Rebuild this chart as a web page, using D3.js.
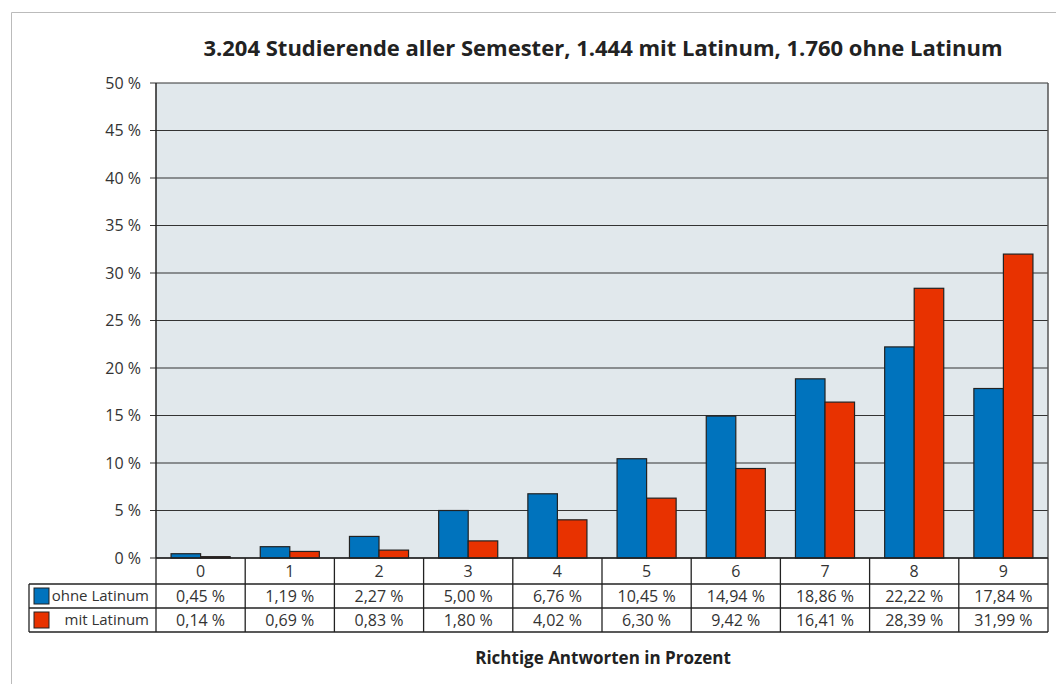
<!DOCTYPE html>
<html><head><meta charset="utf-8">
<script src="https://cdn.jsdelivr.net/npm/d3@7"></script>
<style>body{margin:0;background:#fff}svg{display:block}</style>
</head><body>
<script>
const categories = ["0","1","2","3","4","5","6","7","8","9"];
const seriesNames = ["ohne Latinum","mit Latinum"];
const ohneLatinum = [0.45,1.19,2.27,5.00,6.76,10.45,14.94,18.86,22.22,17.84];
const mitLatinum = [0.14,0.69,0.83,1.80,4.02,6.30,9.42,16.41,28.39,31.99];
const yTicks = [0,5,10,15,20,25,30,35,40,45,50];
const colors = ["#0073bd","#e83200"];
const title = "3.204 Studierende aller Semester, 1.444 mit Latinum, 1.760 ohne Latinum";
const xTitle = "Richtige Antworten in Prozent";

const W=1056,H=684;
const m={left:156,right:1048,top:83,bottom:558};
const font="'Open Sans', 'Noto Sans', sans-serif";
const txt="#333";
const svg=d3.select("body").append("svg").attr("width",W).attr("height",H);

// outer frame
svg.append("path").attr("d",`M11.5,${H} V12.5 H${W}`).attr("fill","none").attr("stroke","#bbb").attr("stroke-width",1);

const x=d3.scaleBand().domain(categories).range([m.left,m.right]).paddingInner(0).paddingOuter(0);
const x1=d3.scaleBand().domain([0,1]).range([0,x.bandwidth()]).paddingOuter(0.51);
const y=d3.scaleLinear().domain([0,50]).range([m.bottom,m.top]);

svg.append("rect").attr("x",m.left).attr("y",m.top).attr("width",m.right-m.left).attr("height",m.bottom-m.top).attr("fill","#e1e8ec");

// gridlines
svg.append("g").selectAll("line").data(yTicks).join("line")
 .attr("x1",m.left-6).attr("x2",m.right).attr("y1",d=>y(d)).attr("y2",d=>y(d))
 .attr("stroke","#333").attr("stroke-width",1.2);

// y axis labels
svg.append("g").selectAll("text").data(yTicks).join("text")
 .attr("x",m.left-15).attr("y",d=>y(d)).attr("dy","0.35em").attr("text-anchor","end")
 .attr("font-family",font).attr("font-size",16).attr("fill",txt).text(d=>d+" %");

// bars
const series=[ohneLatinum,mitLatinum];
series.forEach((s,i)=>{
 svg.append("g").selectAll("rect").data(s).join("rect")
  .attr("x",(d,j)=>x(categories[j])+x1(i)).attr("width",x1.bandwidth())
  .attr("y",d=>y(d)).attr("height",d=>y(0)-y(d))
  .attr("fill",colors[i]).attr("stroke","#222").attr("stroke-width",1.2);
});

// axes lines
svg.append("line").attr("x1",m.left).attr("x2",m.left).attr("y1",m.top).attr("y2",m.bottom).attr("stroke","#222").attr("stroke-width",1.5);
svg.append("line").attr("x1",m.right).attr("x2",m.right).attr("y1",m.top).attr("y2",m.bottom).attr("stroke","#555").attr("stroke-width",1.5);

// table
const rowY=[558,584,608,632];
const tLeft=29;
const tg=svg.append("g");
tg.selectAll("text.cat").data(categories).join("text").attr("class","cat")
 .attr("x",d=>x(d)+x.bandwidth()/2).attr("y",(rowY[0]+rowY[1])/2).attr("dy","0.35em")
 .attr("text-anchor","middle").attr("font-family",font).attr("font-size",16).attr("fill",txt).text(d=>d);
series.forEach((s,i)=>{
 const cy=(rowY[i+1]+rowY[i+2])/2;
 tg.append("g").selectAll("text").data(s).join("text")
  .attr("x",(d,j)=>x(categories[j])+x.bandwidth()/2).attr("y",cy).attr("dy","0.35em")
  .attr("text-anchor","middle").attr("font-family",font).attr("font-size",16).attr("fill",txt)
  .text(d=>d.toFixed(2).replace(".",",")+" %");
 tg.append("rect").attr("x",tLeft+5).attr("y",cy-8).attr("width",15).attr("height",16)
  .attr("fill",colors[i]).attr("stroke","#222").attr("stroke-width",1);
 tg.append("text").attr("x",m.left-7).attr("y",cy).attr("dy","0.35em").attr("text-anchor","end")
  .attr("font-family",font).attr("font-size",15).attr("fill",txt).text(seriesNames[i]);
});
const ln=(a,b,c,d)=>tg.append("line").attr("x1",a).attr("y1",b).attr("x2",c).attr("y2",d).attr("stroke","#222").attr("stroke-width",1.3);
ln(m.left,rowY[0],m.right,rowY[0]);
ln(tLeft,rowY[1],m.right,rowY[1]);
ln(tLeft,rowY[2],m.right,rowY[2]);
ln(tLeft,rowY[3],m.right,rowY[3]);
ln(tLeft,rowY[1],tLeft,rowY[3]);
categories.forEach(c=>ln(x(c),rowY[0],x(c),rowY[3]));
ln(m.right,rowY[0],m.right,rowY[3]);

// titles
svg.append("text").attr("x",603).attr("y",56).attr("text-anchor","middle")
 .attr("font-family",font).attr("font-weight","bold").attr("font-size",22).attr("fill","#222").text(title);
svg.append("text").attr("x",603).attr("y",664).attr("text-anchor","middle")
 .attr("font-family",font).attr("font-weight","bold").attr("font-size",17).attr("fill","#222").text(xTitle);
</script>
</body></html>
